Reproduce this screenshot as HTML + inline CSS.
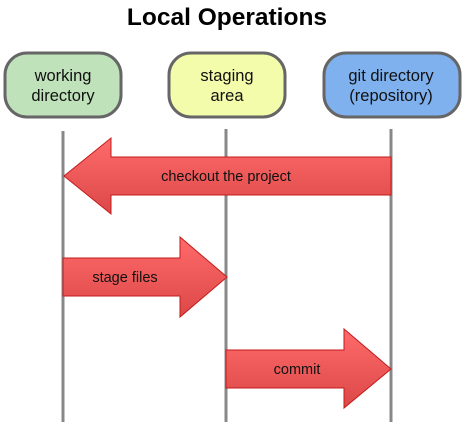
<!DOCTYPE html>
<html><head><style>body{margin:0;background:#fff}svg{display:block}</style></head><body>
<svg width="463" height="426" viewBox="0 0 463 426" xmlns="http://www.w3.org/2000/svg" font-family="Liberation Sans, sans-serif">
<defs>
<linearGradient id="r" x1="0" y1="0" x2="0" y2="1"><stop offset="0" stop-color="#ff6b6b"/><stop offset="1" stop-color="#dc4848"/></linearGradient>
</defs>
<text x="227" y="25" text-anchor="middle" font-size="24.5" font-weight="bold">Local Operations</text>
<g stroke="#666" stroke-width="3">
<rect x="5" y="53" width="116" height="64" rx="22" fill="#bfe2bb"/>
<rect x="169" y="53" width="116" height="64" rx="22" fill="#f2fcaa"/>
<rect x="324" y="53" width="136" height="64" rx="22" fill="#7fb1ef"/>
</g>
<g font-size="16.5" text-anchor="middle" fill="#111">
<text x="63" y="81">working</text><text x="63" y="101">directory</text>
<text x="227" y="81">staging</text><text x="227" y="101">area</text>
<text x="391" y="81">git directory</text><text x="391" y="101">(repository)</text>
</g>
<g stroke="#888" stroke-width="3">
<line x1="63" y1="131" x2="63" y2="422"/>
<line x1="226" y1="129" x2="226" y2="422"/>
<line x1="391" y1="129" x2="391" y2="422"/>
</g>
<g fill="url(#r)" stroke="#c31b1b" stroke-width="1">
<polygon points="391,157 111,157 111,138 64,176 111,214 111,195 391,195"/>
<polygon points="63,258 180,258 180,237 227,277 180,317 180,296 63,296"/>
<polygon points="226,350 344,350 344,329 391,369 344,408 344,388 226,388"/>
</g>
<g font-size="14.5" text-anchor="middle" fill="#111">
<text x="226" y="181">checkout the project</text>
<text x="125" y="282">stage files</text>
<text x="297" y="374">commit</text>
</g>
</svg>
</body></html>
